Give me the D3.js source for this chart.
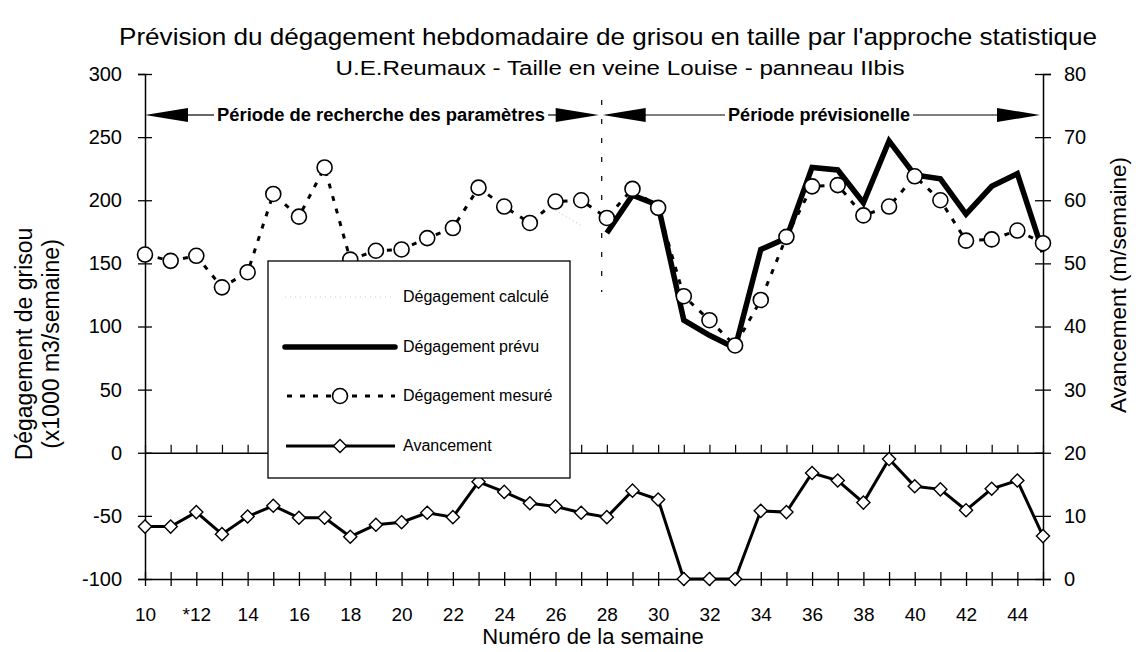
<!DOCTYPE html>
<html>
<head>
<meta charset="utf-8">
<script src="https://cdn.jsdelivr.net/npm/d3@7"></script>
<style>
  body { margin: 0; background: #fff; }
  svg { font-family: "Liberation Sans", Arial, Helvetica, sans-serif; }
</style>
</head>
<body>
<script>
// weeks and series
const weeks = [10, 11, 12, 13, 14, 15, 16, 17, 18, 19, 20, 21, 22, 23, 24, 25, 26, 27,
  28, 29, 30, 31, 32, 33, 34, 35, 36, 37, 38, 39, 40, 41, 42, 43, 44, 45]
const measured = [157, 152, 156, 131, 143, 205, 187, 226, 153, 160, 161, 170, 178, 210, 195, 182, 199, 200,
  186, 209, 194, 124, 105, 85, 121, 171, 211, 212, 188, 195, 219, 200, 168, 169, 176, 166]
const advance = [8.3, 8.3, 10.6, 7.1, 9.9, 11.6, 9.7, 9.7, 6.7, 8.6, 9.0, 10.5, 9.8, 15.4, 13.8, 12.0, 11.5, 10.5,
  9.8, 14.0, 12.6, 0, 0, 0, 10.8, 10.6, 16.8, 15.6, 12.1, 19.0, 14.7, 14.2, 10.9, 14.3, 15.6, 6.8]
const predWeeks = [28, 29, 30, 31, 32, 33, 34, 35, 36, 37, 38, 39, 40, 41, 42, 43, 44, 45]
const predicted = [174, 204, 196, 105, 93, 83, 161, 170, 226, 224, 198, 247, 220, 217, 189, 211, 221, 159]
const calcWeeks = [26, 27]
const calculated = [192, 180]

const leftTicks = [-100, -50, 0, 50, 100, 150, 200, 250, 300]
const rightTicks = [0, 10, 20, 30, 40, 50, 60, 70, 80]
const labelWeeks = [10, 12, 14, 16, 18, 20, 22, 24, 26, 28, 30, 32, 34, 36, 38, 40, 42, 44]
const periodBreak = 27.8

const legendItems = ['Dégagement calculé', 'Dégagement prévu', 'Dégagement mesuré', 'Avancement']

const W = 1136, H = 652
const svg = d3.select('body').append('svg')
  .attr('width', W)
  .attr('height', H)

const x = d3.scaleLinear().domain([10, 45]).range([145, 1043])
const yL = d3.scaleLinear().domain([-100, 300]).range([579, 74])
const yR = d3.scaleLinear().domain([0, 80]).range([579, 74])

// titles
svg.append('text')
  .attr('x', 608).attr('y', 45)
  .attr('text-anchor', 'middle')
  .attr('textLength', 978)
  .attr('lengthAdjust', 'spacingAndGlyphs')
  .style('font-size', '24px')
  .text('Prévision du dégagement hebdomadaire de grisou en taille par l\'approche statistique')
svg.append('text')
  .attr('x', 620).attr('y', 75)
  .attr('text-anchor', 'middle')
  .attr('textLength', 569)
  .attr('lengthAdjust', 'spacingAndGlyphs')
  .style('font-size', '20px')
  .text('U.E.Reumaux - Taille en veine Louise - panneau IIbis')

// left axis
const gL = svg.append('g')
  .attr('transform', `translate(${x(10)},0)`)
  .call(d3.axisLeft(yL).tickValues(leftTicks).tickSize(7).tickPadding(16).tickFormat(d => String(d)))
gL.select('.domain').attr('stroke-width', 1.5)
gL.selectAll('.tick line').attr('x1', 7).attr('stroke-width', 1.3)
gL.selectAll('.tick text').style('font-size', '20px').attr('fill', '#000')

// right axis
const gR = svg.append('g')
  .attr('transform', `translate(${x(45)},0)`)
  .call(d3.axisRight(yR).tickValues(rightTicks).tickSize(8).tickPadding(13).tickFormat(d => String(d)))
gR.select('.domain').attr('stroke-width', 1.5)
gR.selectAll('.tick line').attr('x1', -8).attr('stroke-width', 1.3)
gR.selectAll('.tick text').style('font-size', '20px').attr('fill', '#000')

// zero line with small week ticks
const gZ = svg.append('g')
  .attr('transform', `translate(0,${yL(0)})`)
  .call(d3.axisTop(x).tickValues(weeks).tickSize(8).tickSizeOuter(0).tickFormat(''))
gZ.select('.domain').attr('stroke-width', 1.3)
gZ.selectAll('.tick line').attr('stroke-width', 1.2)

// bottom axis
const gB = svg.append('g')
  .attr('transform', `translate(0,${yL(-100)})`)
  .call(d3.axisBottom(x).tickValues(weeks).tickSize(7).tickSizeOuter(0)
    .tickFormat(d => labelWeeks.includes(d) ? (d === 12 ? '*12' : String(d)) : ''))
gB.select('.domain').attr('stroke-width', 1.5)
gB.selectAll('.tick line').attr('y1', -7).attr('stroke-width', 1.3)
gB.selectAll('.tick text')
  .attr('y', 29)
  .style('font-size', '19px')
  .attr('fill', '#000')

// axis titles
svg.append('text')
  .attr('x', 593).attr('y', 644)
  .attr('text-anchor', 'middle')
  .style('font-size', '22px')
  .text('Numéro de la semaine')
const ltitle = svg.append('text')
  .attr('transform', 'translate(32,344) rotate(-90)')
  .attr('text-anchor', 'middle')
  .style('font-size', '23px')
ltitle.append('tspan').attr('x', 0).attr('dy', 0).text('Dégagement de grisou')
ltitle.append('tspan').attr('x', 0).attr('dy', 27).text('(x1000 m3/semaine)')
svg.append('text')
  .attr('transform', 'translate(1126,285) rotate(-90)')
  .attr('text-anchor', 'middle')
  .style('font-size', '22.5px')
  .text('Avancement (m/semaine)')

// period annotations
const yA = 115
const xb = x(periodBreak)
svg.append('line')
  .attr('x1', xb).attr('x2', xb)
  .attr('y1', 100).attr('y2', 292)
  .attr('stroke', '#000').attr('stroke-width', 1.2)
  .attr('stroke-dasharray', '5,14')

function arrowHead(tip, dir) {
  const base = tip + dir * 43
  svg.append('path')
    .attr('d', `M${tip},${yA}L${base},${yA - 7}L${base},${yA + 7}Z`)
    .attr('fill', '#000')
}
function period(x0, x1, label, tx0, tx1) {
  arrowHead(x0, 1)
  arrowHead(x1, -1)
  svg.append('line').attr('x1', x0 + 40).attr('x2', tx0 - 3).attr('y1', yA).attr('y2', yA)
    .attr('stroke', '#000').attr('stroke-width', 1.2)
  svg.append('line').attr('x1', tx1 + 3).attr('x2', x1 - 40).attr('y1', yA).attr('y2', yA)
    .attr('stroke', '#000').attr('stroke-width', 1.2)
  svg.append('text')
    .attr('x', (tx0 + tx1) / 2).attr('y', yA + 6)
    .attr('text-anchor', 'middle')
    .attr('textLength', tx1 - tx0)
    .attr('lengthAdjust', 'spacingAndGlyphs')
    .style('font-size', '18px')
    .style('font-weight', 'bold')
    .text(label)
}
period(x(10), xb - 3, 'Période de recherche des paramètres', 217, 545)
period(xb + 1, x(45) - 3, 'Période prévisionelle', 728, 910)

// calculated (very faint in the scan)
svg.append('path')
  .datum(calcWeeks.map((w, i) => [w, calculated[i]]))
  .attr('d', d3.line().x(d => x(d[0])).y(d => yL(d[1])))
  .attr('fill', 'none').attr('stroke', '#bbb').attr('stroke-width', 1)
  .attr('stroke-dasharray', '1,3')

// predicted
svg.append('path')
  .datum(predWeeks.map((w, i) => [w, predicted[i]]))
  .attr('d', d3.line().x(d => x(d[0])).y(d => yL(d[1])))
  .attr('fill', 'none').attr('stroke', '#000').attr('stroke-width', 5.5)
  .attr('stroke-linejoin', 'miter')

// measured
svg.append('path')
  .datum(weeks.map((w, i) => [w, measured[i]]))
  .attr('d', d3.line().x(d => x(d[0])).y(d => yL(d[1])))
  .attr('fill', 'none').attr('stroke', '#000').attr('stroke-width', 3)
  .attr('stroke-dasharray', '5,8')
svg.append('g').selectAll('circle')
  .data(weeks.map((w, i) => [w, measured[i]]))
  .join('circle')
  .attr('cx', d => x(d[0])).attr('cy', d => yL(d[1]))
  .attr('r', 7.5)
  .attr('fill', '#fff').attr('stroke', '#000').attr('stroke-width', 1.6)

// avancement
const diamond = d3.symbol().type(d3.symbolDiamond2).size(110)
svg.append('path')
  .datum(weeks.map((w, i) => [w, advance[i]]))
  .attr('d', d3.line().x(d => x(d[0])).y(d => yR(d[1])))
  .attr('fill', 'none').attr('stroke', '#000').attr('stroke-width', 3)
svg.append('g').selectAll('path')
  .data(weeks.map((w, i) => [w, advance[i]]))
  .join('path')
  .attr('d', diamond)
  .attr('transform', d => `translate(${x(d[0])},${yR(d[1])})`)
  .attr('fill', '#fff').attr('stroke', '#000').attr('stroke-width', 1.4)

// legend
const lg = svg.append('g')
lg.append('rect')
  .attr('x', 268).attr('y', 261).attr('width', 302).attr('height', 217)
  .attr('fill', '#fff').attr('stroke', '#000').attr('stroke-width', 1.3)
const rowY = [297, 347, 396, 446]
legendItems.forEach((name, i) => {
  lg.append('text')
    .attr('x', 403).attr('y', rowY[i] + 5)
    .style('font-size', '16px')
    .text(name)
})
lg.append('line').attr('x1', 285).attr('x2', 395).attr('y1', rowY[0]).attr('y2', rowY[0])
  .attr('stroke', '#ccc').attr('stroke-width', 1).attr('stroke-dasharray', '1,4')
lg.append('line').attr('x1', 285).attr('x2', 395).attr('y1', rowY[1]).attr('y2', rowY[1])
  .attr('stroke', '#000').attr('stroke-width', 5.5).attr('stroke-linecap', 'round')
lg.append('line').attr('x1', 287).attr('x2', 395).attr('y1', rowY[2]).attr('y2', rowY[2])
  .attr('stroke', '#000').attr('stroke-width', 3).attr('stroke-dasharray', '5,8')
lg.append('circle').attr('cx', 340).attr('cy', rowY[2]).attr('r', 7.5)
  .attr('fill', '#fff').attr('stroke', '#000').attr('stroke-width', 1.6)
lg.append('line').attr('x1', 286).attr('x2', 395).attr('y1', rowY[3]).attr('y2', rowY[3])
  .attr('stroke', '#000').attr('stroke-width', 3)
lg.append('path').attr('d', diamond)
  .attr('transform', `translate(340,${rowY[3]})`)
  .attr('fill', '#fff').attr('stroke', '#000').attr('stroke-width', 1.4)
</script>
</body>
</html>
